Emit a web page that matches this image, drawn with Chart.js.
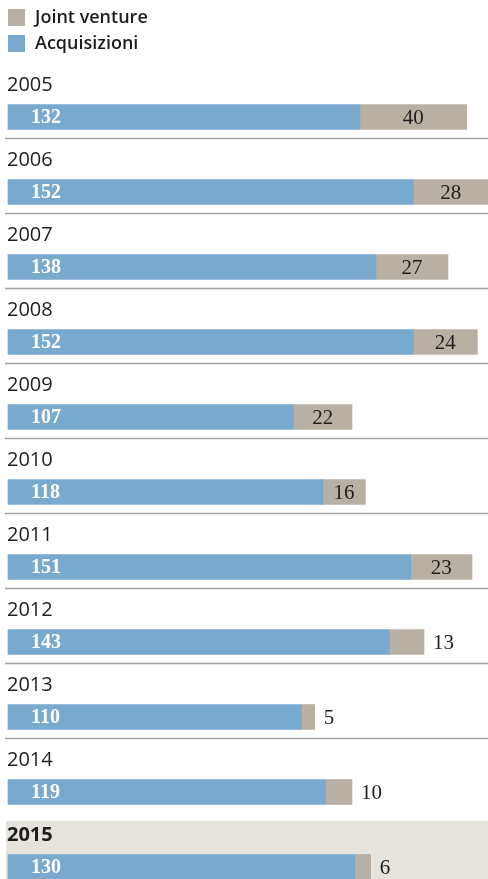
<!DOCTYPE html>
<html>
<head>
<meta charset="utf-8">
<script src="https://cdn.jsdelivr.net/npm/chart.js@4"></script>
<style>
  html, body { margin: 0; padding: 0; background: #fff; }
  canvas { display: block; }
</style>
</head>
<body>
<canvas id="chart" width="488" height="879"></canvas>
<script>
const years = ['2005', '2006', '2007', '2008', '2009', '2010', '2011', '2012', '2013', '2014', '2015'];
const acquisizioni = [132, 152, 138, 152, 107, 118, 151, 143, 110, 119, 130];
const jointVenture = [40, 28, 27, 24, 22, 16, 23, 13, 5, 10, 6];

const blue = '#79a9cd';
const grey = '#b8b0a5';

const rowDecor = {
  id: 'rowDecor',
  beforeDatasetsDraw(chart) {
    const ctx = chart.ctx;
    const meta = chart.getDatasetMeta(0);
    const last = meta.data[meta.data.length - 1];
    // highlighted 2015 row
    ctx.save();
    ctx.fillStyle = '#e6e3dc';
    ctx.fillRect(6, last.y - 46, chart.width - 6, chart.height - (last.y - 46));
    // separators
    ctx.strokeStyle = '#a3a3a3';
    ctx.lineWidth = 1.5;
    meta.data.forEach((bar, i) => {
      if (i < meta.data.length - 2) {
        ctx.beginPath();
        ctx.moveTo(5, bar.y + 21.5);
        ctx.lineTo(chart.width, bar.y + 21.5);
        ctx.stroke();
      }
    });
    ctx.restore();
  },
  afterDatasetsDraw(chart) {
    const ctx = chart.ctx;
    const m0 = chart.getDatasetMeta(0);
    const m1 = chart.getDatasetMeta(1);
    ctx.save();
    ctx.textBaseline = 'middle';
    // year labels
    years.forEach((y, i) => {
      const bar = m0.data[i];
      ctx.fillStyle = '#1e1e1e';
      ctx.font = (i === years.length - 1 ? 'bold ' : '') + '20px "Open Sans"';
      ctx.textAlign = 'left';
      ctx.fillText(y, 7, bar.y - 32);
    });
    // values
    ctx.font = 'bold 20px "Liberation Serif"';
    acquisizioni.forEach((v, i) => {
      const bar = m0.data[i];
      ctx.fillStyle = '#ffffff';
      ctx.textAlign = 'left';
      ctx.fillText(String(v), 31, bar.y + 1);
    });
    ctx.font = '21px "Liberation Serif"';
    jointVenture.forEach((v, i) => {
      const bar = m1.data[i];
      ctx.fillStyle = '#1e1e1e';
      if (v >= 15) {
        ctx.textAlign = 'center';
        ctx.fillText(String(v), (bar.x + bar.base) / 2, bar.y + 1);
      } else {
        ctx.textAlign = 'left';
        ctx.fillText(String(v), bar.x + 9, bar.y + 1);
      }
    });
    // legend
    const items = [['Joint venture', grey], ['Acquisizioni', blue]];
    ctx.font = '600 18px "Open Sans"';
    ctx.textAlign = 'left';
    items.forEach((it, i) => {
      const top = 9 + i * 26;
      ctx.fillStyle = it[1];
      ctx.fillRect(8, top, 17, 17);
      ctx.fillStyle = '#1e1e1e';
      ctx.fillText(it[0], 35, top + 9);
    });
    ctx.restore();
  }
};

new Chart(document.getElementById('chart'), {
  type: 'bar',
  data: {
    labels: years,
    datasets: [
      { label: 'Acquisizioni', data: acquisizioni, backgroundColor: blue, clip: false },
      { label: 'Joint venture', data: jointVenture, backgroundColor: grey, clip: false }
    ]
  },
  options: {
    indexAxis: 'y',
    responsive: false,
    animation: false,
    barThickness: 25,
    layout: { padding: { top: 117, bottom: 12, left: 8, right: 0 } },
    scales: {
      x: { stacked: true, display: false, min: 0, max: 180 },
      y: { stacked: true, display: false, offset: false }
    },
    plugins: { legend: { display: false }, tooltip: { enabled: false } }
  },
  plugins: [rowDecor]
});
</script>
</body>
</html>
